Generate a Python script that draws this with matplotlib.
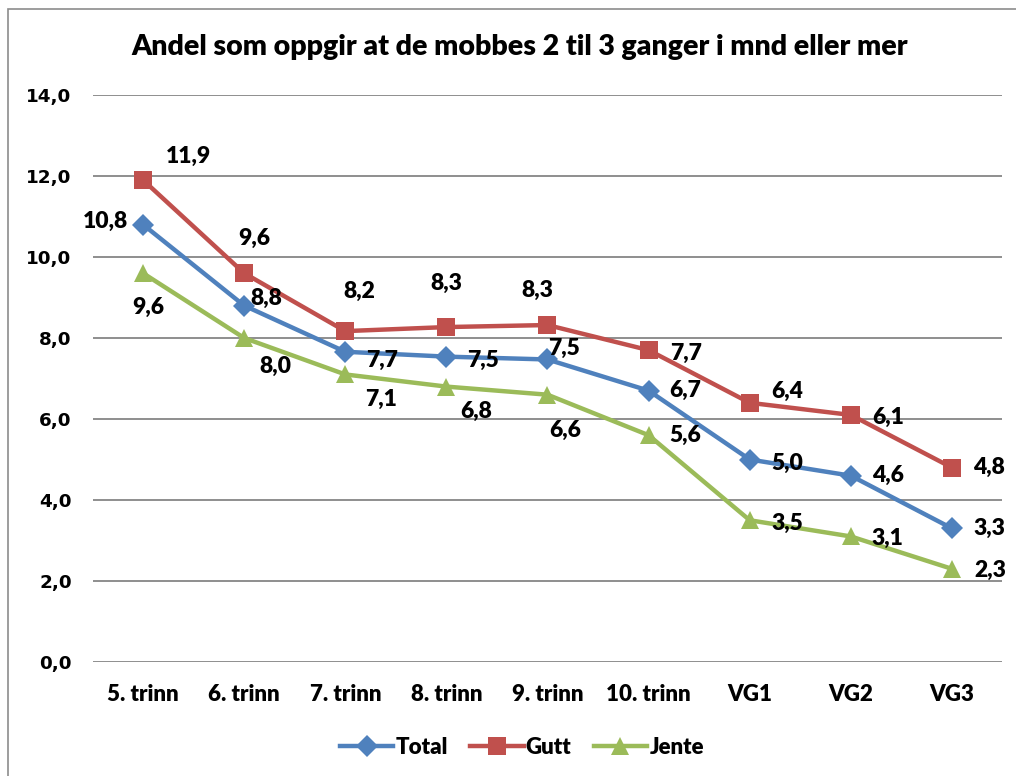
import matplotlib
matplotlib.use("Agg")
import matplotlib.pyplot as plt
from matplotlib.patches import Rectangle
from matplotlib.lines import Line2D

# ---- data ----
categories = ["5. trinn", "6. trinn", "7. trinn", "8. trinn", "9. trinn",
              "10. trinn", "VG1", "VG2", "VG3"]
total = [10.8, 8.8, 7.66, 7.54, 7.47, 6.7, 5.0, 4.6, 3.3]
gutt = [11.9, 9.6, 8.17, 8.27, 8.32, 7.7, 6.4, 6.1, 4.8]
jente = [9.6, 8.0, 7.1, 6.8, 6.6, 5.6, 3.5, 3.1, 2.3]
series_names = ["Total", "Gutt", "Jente"]
yticks = [0, 2, 4, 6, 8, 10, 12, 14]

# label offsets in pixels (dx right, dy down)
R = (37, 0)
off_total = [(-38, -3), (22, -7), (37, 9), (37, 4), (17, -11), R, (38, 4), R, R]
off_gutt = [(45, -24), (10, -35), (14, -40), (0, -44), (-10, -35), (37, 3), (37, -11), (37, 2), R]
off_jente = [(5, 34), (31, 28), (36, 25), (30, 25), (18, 36), R, (38, 3), (37, 2), (38, 2)]

colors = ["#4F81BD", "#C0504D", "#9BBB59"]
markers = ["D", "s", "^"]
msizes = [11, 13, 13]

W, H = 1016, 776
fig = plt.figure(figsize=(W / 100, H / 100), dpi=100)
ax = fig.add_axes([92.5 / W, (H - 662) / H, 910 / W, 567 / H])

calibri = ["Lato", "DejaVu Sans"]
WT = "heavy"
x = list(range(len(categories)))
for vals, offs, c, m, ms, name in zip([total, gutt, jente],
                                      [off_total, off_gutt, off_jente],
                                      colors, markers, msizes, series_names):
    ax.plot(x, vals, color=c, lw=3.2, marker=m, markersize=ms,
            markeredgewidth=0, label=name, zorder=3, solid_capstyle="round")
    for xi, v, (dx, dy) in zip(x, vals, offs):
        ax.annotate(f"{v:.1f}".replace(".", ","), (xi, v), xytext=(dx, -dy),
                    textcoords="offset pixels", ha="center", va="center",
                    fontsize=16.5, fontweight=WT, family=calibri, zorder=4)

ax.set_xlim(-0.5, len(categories) - 0.5)
ax.set_ylim(0, 14)
ax.set_yticks(yticks)
ax.set_yticklabels([f"{t:.1f}".replace(".", ",") for t in yticks],
                   fontsize=13.2, fontweight="bold", family="DejaVu Sans")
ax.set_xticks(x)
ax.set_xticklabels(categories, fontsize=16, fontweight=WT, family=calibri)
ax.tick_params(axis="y", length=0, pad=15)
ax.tick_params(axis="x", length=0, pad=16)
ax.grid(axis="y", color="#868686", lw=1.3, zorder=0)
for s in ax.spines.values():
    s.set_visible(False)

fig.text(520 / W, 1 - 47 / H, "Andel som oppgir at de mobbes 2 til 3 ganger i mnd eller mer",
         ha="center", va="center", fontsize=20.5, fontweight=WT, family=calibri)

handles = [Line2D([0], [0], color=c, lw=3.2, marker=m, markersize=ms, markeredgewidth=0)
           for c, m, ms in zip(colors, markers, msizes)]
fig.legend(handles, series_names, loc="center", bbox_to_anchor=(522 / W, 1 - 747 / H),
           ncol=3, frameon=False, prop={"family": calibri, "weight": WT, "size": 16},
           handlelength=2.4, handletextpad=0.1, columnspacing=1.0)

fig.patches.append(Rectangle((8 / W, -0.1), 1.2, 1 - 9 / H + 0.1, transform=fig.transFigure,
                             fill=False, edgecolor="#8C8C8C", lw=1.2))

fig.savefig("out.png", dpi=100)
